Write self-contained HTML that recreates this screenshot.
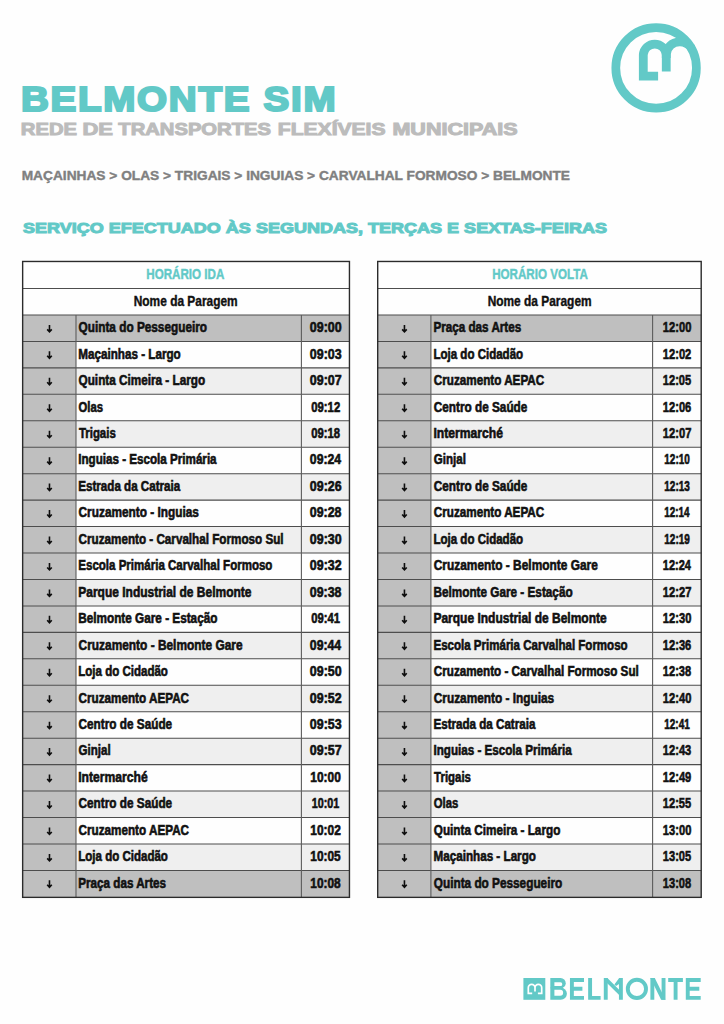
<!DOCTYPE html>
<html lang="pt"><head><meta charset="utf-8"><title>Belmonte SIM</title>
<style>
html,body{margin:0;padding:0;background:#fefefe;}
body{width:724px;height:1024px;position:relative;overflow:hidden;font-family:"Liberation Sans",sans-serif;font-weight:bold;}
svg{position:absolute;left:0;top:0;}
.t{position:absolute;display:block;white-space:nowrap;line-height:1;transform-origin:0 0;}
</style></head><body>
<svg width="724" height="1024" viewBox="0 0 724 1024">
<rect x="22.65" y="314.98" width="326.80" height="26.45" fill="#bfbfbf"/>
<rect x="22.65" y="341.43" width="53.35" height="26.45" fill="#bfbfbf"/>
<rect x="22.65" y="367.88" width="53.35" height="26.45" fill="#bfbfbf"/>
<rect x="76.0" y="367.88" width="273.45" height="26.45" fill="#efefef"/>
<rect x="22.65" y="394.33" width="53.35" height="26.45" fill="#bfbfbf"/>
<rect x="22.65" y="420.78" width="53.35" height="26.45" fill="#bfbfbf"/>
<rect x="76.0" y="420.78" width="273.45" height="26.45" fill="#efefef"/>
<rect x="22.65" y="447.23" width="53.35" height="26.45" fill="#bfbfbf"/>
<rect x="22.65" y="473.68" width="53.35" height="26.45" fill="#bfbfbf"/>
<rect x="76.0" y="473.68" width="273.45" height="26.45" fill="#efefef"/>
<rect x="22.65" y="500.13" width="53.35" height="26.45" fill="#bfbfbf"/>
<rect x="22.65" y="526.58" width="53.35" height="26.45" fill="#bfbfbf"/>
<rect x="76.0" y="526.58" width="273.45" height="26.45" fill="#efefef"/>
<rect x="22.65" y="553.03" width="53.35" height="26.45" fill="#bfbfbf"/>
<rect x="22.65" y="579.48" width="53.35" height="26.45" fill="#bfbfbf"/>
<rect x="76.0" y="579.48" width="273.45" height="26.45" fill="#efefef"/>
<rect x="22.65" y="605.93" width="53.35" height="26.45" fill="#bfbfbf"/>
<rect x="22.65" y="632.38" width="53.35" height="26.45" fill="#bfbfbf"/>
<rect x="76.0" y="632.38" width="273.45" height="26.45" fill="#efefef"/>
<rect x="22.65" y="658.83" width="53.35" height="26.45" fill="#bfbfbf"/>
<rect x="22.65" y="685.28" width="53.35" height="26.45" fill="#bfbfbf"/>
<rect x="76.0" y="685.28" width="273.45" height="26.45" fill="#efefef"/>
<rect x="22.65" y="711.73" width="53.35" height="26.45" fill="#bfbfbf"/>
<rect x="22.65" y="738.18" width="53.35" height="26.45" fill="#bfbfbf"/>
<rect x="76.0" y="738.18" width="273.45" height="26.45" fill="#efefef"/>
<rect x="22.65" y="764.63" width="53.35" height="26.45" fill="#bfbfbf"/>
<rect x="22.65" y="791.08" width="53.35" height="26.45" fill="#bfbfbf"/>
<rect x="76.0" y="791.08" width="273.45" height="26.45" fill="#efefef"/>
<rect x="22.65" y="817.53" width="53.35" height="26.45" fill="#bfbfbf"/>
<rect x="22.65" y="843.98" width="53.35" height="26.45" fill="#bfbfbf"/>
<rect x="76.0" y="843.98" width="273.45" height="26.45" fill="#efefef"/>
<rect x="22.65" y="870.43" width="326.80" height="26.45" fill="#bfbfbf"/>
<line x1="22.65" y1="288.53" x2="349.45" y2="288.53" stroke="#4d4d4d" stroke-width="1.05"/>
<line x1="22.65" y1="314.98" x2="349.45" y2="314.98" stroke="#4d4d4d" stroke-width="1.05"/>
<line x1="22.65" y1="341.43" x2="349.45" y2="341.43" stroke="#4d4d4d" stroke-width="1.05"/>
<line x1="22.65" y1="367.88" x2="349.45" y2="367.88" stroke="#4d4d4d" stroke-width="1.05"/>
<line x1="22.65" y1="394.33" x2="349.45" y2="394.33" stroke="#4d4d4d" stroke-width="1.05"/>
<line x1="22.65" y1="420.78" x2="349.45" y2="420.78" stroke="#4d4d4d" stroke-width="1.05"/>
<line x1="22.65" y1="447.23" x2="349.45" y2="447.23" stroke="#4d4d4d" stroke-width="1.05"/>
<line x1="22.65" y1="473.68" x2="349.45" y2="473.68" stroke="#4d4d4d" stroke-width="1.05"/>
<line x1="22.65" y1="500.13" x2="349.45" y2="500.13" stroke="#4d4d4d" stroke-width="1.05"/>
<line x1="22.65" y1="526.58" x2="349.45" y2="526.58" stroke="#4d4d4d" stroke-width="1.05"/>
<line x1="22.65" y1="553.03" x2="349.45" y2="553.03" stroke="#4d4d4d" stroke-width="1.05"/>
<line x1="22.65" y1="579.48" x2="349.45" y2="579.48" stroke="#4d4d4d" stroke-width="1.05"/>
<line x1="22.65" y1="605.93" x2="349.45" y2="605.93" stroke="#4d4d4d" stroke-width="1.05"/>
<line x1="22.65" y1="632.38" x2="349.45" y2="632.38" stroke="#4d4d4d" stroke-width="1.05"/>
<line x1="22.65" y1="658.83" x2="349.45" y2="658.83" stroke="#4d4d4d" stroke-width="1.05"/>
<line x1="22.65" y1="685.28" x2="349.45" y2="685.28" stroke="#4d4d4d" stroke-width="1.05"/>
<line x1="22.65" y1="711.73" x2="349.45" y2="711.73" stroke="#4d4d4d" stroke-width="1.05"/>
<line x1="22.65" y1="738.18" x2="349.45" y2="738.18" stroke="#4d4d4d" stroke-width="1.05"/>
<line x1="22.65" y1="764.63" x2="349.45" y2="764.63" stroke="#4d4d4d" stroke-width="1.05"/>
<line x1="22.65" y1="791.08" x2="349.45" y2="791.08" stroke="#4d4d4d" stroke-width="1.05"/>
<line x1="22.65" y1="817.53" x2="349.45" y2="817.53" stroke="#4d4d4d" stroke-width="1.05"/>
<line x1="22.65" y1="843.98" x2="349.45" y2="843.98" stroke="#4d4d4d" stroke-width="1.05"/>
<line x1="22.65" y1="870.43" x2="349.45" y2="870.43" stroke="#4d4d4d" stroke-width="1.05"/>
<line x1="76.0" y1="314.98" x2="76.0" y2="896.88" stroke="#5c5c5c" stroke-width="1.1"/>
<line x1="301.4" y1="314.98" x2="301.4" y2="896.88" stroke="#5c5c5c" stroke-width="1.1"/>
<rect x="22.65" y="261.47" width="326.80" height="635.88" fill="none" stroke="#2b2b2b" stroke-width="1.4"/>
<path d="M49.48 324.88V331.58M47.18 329.38L49.48 331.88L51.77 329.38" fill="none" stroke="#0d0d0d" stroke-width="1.6"/>
<path d="M49.48 351.33V358.03M47.18 355.83L49.48 358.33L51.77 355.83" fill="none" stroke="#0d0d0d" stroke-width="1.6"/>
<path d="M49.48 377.78V384.48M47.18 382.28L49.48 384.78L51.77 382.28" fill="none" stroke="#0d0d0d" stroke-width="1.6"/>
<path d="M49.48 404.23V410.93M47.18 408.73L49.48 411.23L51.77 408.73" fill="none" stroke="#0d0d0d" stroke-width="1.6"/>
<path d="M49.48 430.68V437.38M47.18 435.18L49.48 437.68L51.77 435.18" fill="none" stroke="#0d0d0d" stroke-width="1.6"/>
<path d="M49.48 457.13V463.83M47.18 461.63L49.48 464.13L51.77 461.63" fill="none" stroke="#0d0d0d" stroke-width="1.6"/>
<path d="M49.48 483.58V490.28M47.18 488.08L49.48 490.58L51.77 488.08" fill="none" stroke="#0d0d0d" stroke-width="1.6"/>
<path d="M49.48 510.03V516.73M47.18 514.53L49.48 517.03L51.77 514.53" fill="none" stroke="#0d0d0d" stroke-width="1.6"/>
<path d="M49.48 536.48V543.18M47.18 540.98L49.48 543.48L51.77 540.98" fill="none" stroke="#0d0d0d" stroke-width="1.6"/>
<path d="M49.48 562.93V569.63M47.18 567.43L49.48 569.93L51.77 567.43" fill="none" stroke="#0d0d0d" stroke-width="1.6"/>
<path d="M49.48 589.38V596.08M47.18 593.88L49.48 596.38L51.77 593.88" fill="none" stroke="#0d0d0d" stroke-width="1.6"/>
<path d="M49.48 615.83V622.53M47.18 620.33L49.48 622.83L51.77 620.33" fill="none" stroke="#0d0d0d" stroke-width="1.6"/>
<path d="M49.48 642.28V648.98M47.18 646.78L49.48 649.28L51.77 646.78" fill="none" stroke="#0d0d0d" stroke-width="1.6"/>
<path d="M49.48 668.73V675.43M47.18 673.23L49.48 675.73L51.77 673.23" fill="none" stroke="#0d0d0d" stroke-width="1.6"/>
<path d="M49.48 695.18V701.88M47.18 699.68L49.48 702.18L51.77 699.68" fill="none" stroke="#0d0d0d" stroke-width="1.6"/>
<path d="M49.48 721.63V728.33M47.18 726.13L49.48 728.63L51.77 726.13" fill="none" stroke="#0d0d0d" stroke-width="1.6"/>
<path d="M49.48 748.08V754.78M47.18 752.58L49.48 755.08L51.77 752.58" fill="none" stroke="#0d0d0d" stroke-width="1.6"/>
<path d="M49.48 774.53V781.23M47.18 779.03L49.48 781.53L51.77 779.03" fill="none" stroke="#0d0d0d" stroke-width="1.6"/>
<path d="M49.48 800.98V807.68M47.18 805.48L49.48 807.98L51.77 805.48" fill="none" stroke="#0d0d0d" stroke-width="1.6"/>
<path d="M49.48 827.43V834.13M47.18 831.93L49.48 834.43L51.77 831.93" fill="none" stroke="#0d0d0d" stroke-width="1.6"/>
<path d="M49.48 853.88V860.58M47.18 858.38L49.48 860.88L51.77 858.38" fill="none" stroke="#0d0d0d" stroke-width="1.6"/>
<path d="M49.48 880.33V887.03M47.18 884.83L49.48 887.33L51.77 884.83" fill="none" stroke="#0d0d0d" stroke-width="1.6"/>
<rect x="377.7" y="314.98" width="323.50" height="26.45" fill="#bfbfbf"/>
<rect x="377.7" y="341.43" width="53.20" height="26.45" fill="#bfbfbf"/>
<rect x="377.7" y="367.88" width="53.20" height="26.45" fill="#bfbfbf"/>
<rect x="430.9" y="367.88" width="270.30" height="26.45" fill="#efefef"/>
<rect x="377.7" y="394.33" width="53.20" height="26.45" fill="#bfbfbf"/>
<rect x="377.7" y="420.78" width="53.20" height="26.45" fill="#bfbfbf"/>
<rect x="430.9" y="420.78" width="270.30" height="26.45" fill="#efefef"/>
<rect x="377.7" y="447.23" width="53.20" height="26.45" fill="#bfbfbf"/>
<rect x="377.7" y="473.68" width="53.20" height="26.45" fill="#bfbfbf"/>
<rect x="430.9" y="473.68" width="270.30" height="26.45" fill="#efefef"/>
<rect x="377.7" y="500.13" width="53.20" height="26.45" fill="#bfbfbf"/>
<rect x="377.7" y="526.58" width="53.20" height="26.45" fill="#bfbfbf"/>
<rect x="430.9" y="526.58" width="270.30" height="26.45" fill="#efefef"/>
<rect x="377.7" y="553.03" width="53.20" height="26.45" fill="#bfbfbf"/>
<rect x="377.7" y="579.48" width="53.20" height="26.45" fill="#bfbfbf"/>
<rect x="430.9" y="579.48" width="270.30" height="26.45" fill="#efefef"/>
<rect x="377.7" y="605.93" width="53.20" height="26.45" fill="#bfbfbf"/>
<rect x="377.7" y="632.38" width="53.20" height="26.45" fill="#bfbfbf"/>
<rect x="430.9" y="632.38" width="270.30" height="26.45" fill="#efefef"/>
<rect x="377.7" y="658.83" width="53.20" height="26.45" fill="#bfbfbf"/>
<rect x="377.7" y="685.28" width="53.20" height="26.45" fill="#bfbfbf"/>
<rect x="430.9" y="685.28" width="270.30" height="26.45" fill="#efefef"/>
<rect x="377.7" y="711.73" width="53.20" height="26.45" fill="#bfbfbf"/>
<rect x="377.7" y="738.18" width="53.20" height="26.45" fill="#bfbfbf"/>
<rect x="430.9" y="738.18" width="270.30" height="26.45" fill="#efefef"/>
<rect x="377.7" y="764.63" width="53.20" height="26.45" fill="#bfbfbf"/>
<rect x="377.7" y="791.08" width="53.20" height="26.45" fill="#bfbfbf"/>
<rect x="430.9" y="791.08" width="270.30" height="26.45" fill="#efefef"/>
<rect x="377.7" y="817.53" width="53.20" height="26.45" fill="#bfbfbf"/>
<rect x="377.7" y="843.98" width="53.20" height="26.45" fill="#bfbfbf"/>
<rect x="430.9" y="843.98" width="270.30" height="26.45" fill="#efefef"/>
<rect x="377.7" y="870.43" width="323.50" height="26.45" fill="#bfbfbf"/>
<line x1="377.7" y1="288.53" x2="701.2" y2="288.53" stroke="#4d4d4d" stroke-width="1.05"/>
<line x1="377.7" y1="314.98" x2="701.2" y2="314.98" stroke="#4d4d4d" stroke-width="1.05"/>
<line x1="377.7" y1="341.43" x2="701.2" y2="341.43" stroke="#4d4d4d" stroke-width="1.05"/>
<line x1="377.7" y1="367.88" x2="701.2" y2="367.88" stroke="#4d4d4d" stroke-width="1.05"/>
<line x1="377.7" y1="394.33" x2="701.2" y2="394.33" stroke="#4d4d4d" stroke-width="1.05"/>
<line x1="377.7" y1="420.78" x2="701.2" y2="420.78" stroke="#4d4d4d" stroke-width="1.05"/>
<line x1="377.7" y1="447.23" x2="701.2" y2="447.23" stroke="#4d4d4d" stroke-width="1.05"/>
<line x1="377.7" y1="473.68" x2="701.2" y2="473.68" stroke="#4d4d4d" stroke-width="1.05"/>
<line x1="377.7" y1="500.13" x2="701.2" y2="500.13" stroke="#4d4d4d" stroke-width="1.05"/>
<line x1="377.7" y1="526.58" x2="701.2" y2="526.58" stroke="#4d4d4d" stroke-width="1.05"/>
<line x1="377.7" y1="553.03" x2="701.2" y2="553.03" stroke="#4d4d4d" stroke-width="1.05"/>
<line x1="377.7" y1="579.48" x2="701.2" y2="579.48" stroke="#4d4d4d" stroke-width="1.05"/>
<line x1="377.7" y1="605.93" x2="701.2" y2="605.93" stroke="#4d4d4d" stroke-width="1.05"/>
<line x1="377.7" y1="632.38" x2="701.2" y2="632.38" stroke="#4d4d4d" stroke-width="1.05"/>
<line x1="377.7" y1="658.83" x2="701.2" y2="658.83" stroke="#4d4d4d" stroke-width="1.05"/>
<line x1="377.7" y1="685.28" x2="701.2" y2="685.28" stroke="#4d4d4d" stroke-width="1.05"/>
<line x1="377.7" y1="711.73" x2="701.2" y2="711.73" stroke="#4d4d4d" stroke-width="1.05"/>
<line x1="377.7" y1="738.18" x2="701.2" y2="738.18" stroke="#4d4d4d" stroke-width="1.05"/>
<line x1="377.7" y1="764.63" x2="701.2" y2="764.63" stroke="#4d4d4d" stroke-width="1.05"/>
<line x1="377.7" y1="791.08" x2="701.2" y2="791.08" stroke="#4d4d4d" stroke-width="1.05"/>
<line x1="377.7" y1="817.53" x2="701.2" y2="817.53" stroke="#4d4d4d" stroke-width="1.05"/>
<line x1="377.7" y1="843.98" x2="701.2" y2="843.98" stroke="#4d4d4d" stroke-width="1.05"/>
<line x1="377.7" y1="870.43" x2="701.2" y2="870.43" stroke="#4d4d4d" stroke-width="1.05"/>
<line x1="430.9" y1="314.98" x2="430.9" y2="896.88" stroke="#5c5c5c" stroke-width="1.1"/>
<line x1="652.6" y1="314.98" x2="652.6" y2="896.88" stroke="#5c5c5c" stroke-width="1.1"/>
<rect x="377.7" y="261.47" width="323.50" height="635.88" fill="none" stroke="#2b2b2b" stroke-width="1.4"/>
<path d="M404.45 324.88V331.58M402.15 329.38L404.45 331.88L406.75 329.38" fill="none" stroke="#0d0d0d" stroke-width="1.6"/>
<path d="M404.45 351.33V358.03M402.15 355.83L404.45 358.33L406.75 355.83" fill="none" stroke="#0d0d0d" stroke-width="1.6"/>
<path d="M404.45 377.78V384.48M402.15 382.28L404.45 384.78L406.75 382.28" fill="none" stroke="#0d0d0d" stroke-width="1.6"/>
<path d="M404.45 404.23V410.93M402.15 408.73L404.45 411.23L406.75 408.73" fill="none" stroke="#0d0d0d" stroke-width="1.6"/>
<path d="M404.45 430.68V437.38M402.15 435.18L404.45 437.68L406.75 435.18" fill="none" stroke="#0d0d0d" stroke-width="1.6"/>
<path d="M404.45 457.13V463.83M402.15 461.63L404.45 464.13L406.75 461.63" fill="none" stroke="#0d0d0d" stroke-width="1.6"/>
<path d="M404.45 483.58V490.28M402.15 488.08L404.45 490.58L406.75 488.08" fill="none" stroke="#0d0d0d" stroke-width="1.6"/>
<path d="M404.45 510.03V516.73M402.15 514.53L404.45 517.03L406.75 514.53" fill="none" stroke="#0d0d0d" stroke-width="1.6"/>
<path d="M404.45 536.48V543.18M402.15 540.98L404.45 543.48L406.75 540.98" fill="none" stroke="#0d0d0d" stroke-width="1.6"/>
<path d="M404.45 562.93V569.63M402.15 567.43L404.45 569.93L406.75 567.43" fill="none" stroke="#0d0d0d" stroke-width="1.6"/>
<path d="M404.45 589.38V596.08M402.15 593.88L404.45 596.38L406.75 593.88" fill="none" stroke="#0d0d0d" stroke-width="1.6"/>
<path d="M404.45 615.83V622.53M402.15 620.33L404.45 622.83L406.75 620.33" fill="none" stroke="#0d0d0d" stroke-width="1.6"/>
<path d="M404.45 642.28V648.98M402.15 646.78L404.45 649.28L406.75 646.78" fill="none" stroke="#0d0d0d" stroke-width="1.6"/>
<path d="M404.45 668.73V675.43M402.15 673.23L404.45 675.73L406.75 673.23" fill="none" stroke="#0d0d0d" stroke-width="1.6"/>
<path d="M404.45 695.18V701.88M402.15 699.68L404.45 702.18L406.75 699.68" fill="none" stroke="#0d0d0d" stroke-width="1.6"/>
<path d="M404.45 721.63V728.33M402.15 726.13L404.45 728.63L406.75 726.13" fill="none" stroke="#0d0d0d" stroke-width="1.6"/>
<path d="M404.45 748.08V754.78M402.15 752.58L404.45 755.08L406.75 752.58" fill="none" stroke="#0d0d0d" stroke-width="1.6"/>
<path d="M404.45 774.53V781.23M402.15 779.03L404.45 781.53L406.75 779.03" fill="none" stroke="#0d0d0d" stroke-width="1.6"/>
<path d="M404.45 800.98V807.68M402.15 805.48L404.45 807.98L406.75 805.48" fill="none" stroke="#0d0d0d" stroke-width="1.6"/>
<path d="M404.45 827.43V834.13M402.15 831.93L404.45 834.43L406.75 831.93" fill="none" stroke="#0d0d0d" stroke-width="1.6"/>
<path d="M404.45 853.88V860.58M402.15 858.38L404.45 860.88L406.75 858.38" fill="none" stroke="#0d0d0d" stroke-width="1.6"/>
<path d="M404.45 880.33V887.03M402.15 884.83L404.45 887.33L406.75 884.83" fill="none" stroke="#0d0d0d" stroke-width="1.6"/>

<g fill="none" stroke="#62c9c7">
<circle cx="656.1" cy="67.9" r="40.3" stroke-width="8.7"/>
<path d="M658.1 76.05H643.3V54.8A11.5 11.5 0 0 1 666.25 54.8V71.6" stroke-width="8.8" stroke-linejoin="miter"/>
</g>
<path d="M661.85 58V54.8A17.15 17.15 0 0 1 679 37.65L695 45L690.5 53L688.3 50.9Q684.8 46.3 680 46.3A8.9 8.9 0 0 0 670.65 54.8V58Z" fill="#62c9c7"/>

<rect x="523.4" y="978" width="21.9" height="21.8" fill="#62c9c7"/>
<path d="M532.2 993.3H528.3V987.8A3.35 3.35 0 0 1 535 987.8V991.6M535 987.8A3.35 3.35 0 0 1 541.7 987.8V993.3H537.9" fill="none" stroke="#fff" stroke-width="1.7"/>
<g fill="#62c9c7">
<path d="M550.3 978H560.6A5.15 5.15 0 0 1 560.6 988.3H550.3Z"/>
<path d="M550.3 987.6H560.8A6.1 6.1 0 0 1 560.8 999.8H550.3Z"/>
<path d="M605 977.9H607.4L620.9 991.4V996.8L605 980.9Z"/>
<path d="M614.4 984.4L619.2 977.9H621V984.1H619L616.1 986.1Z"/>
<path d="M650.4 978H654.8L665.5 999.8H661.1Z"/>
</g>
<g fill="#fefefe">
<path d="M554.4 982.3H560.4A1.9 1.9 0 0 1 560.4 986.1H554.4Z"/>
<path d="M554.4 989.8H560.2A2.95 2.95 0 0 1 560.2 995.7H554.4Z"/>
</g>
<g fill="none" stroke="#62c9c7" stroke-width="3.9">
<path d="M584 979.95H571.9V997.85H584M571.9 988.75H582.4"/>
<path d="M590.1 978V997.85H600.6"/>
<path d="M605.75 977.9V999.8M620.9 977.9V999.8"/>
<circle cx="636.9" cy="988.9" r="9.1"/>
<path d="M652.35 978V999.8M663.55 978V999.8"/>
<path d="M668.2 979.95H682.9M675.6 978V999.8"/>
<path d="M700.7 979.95H687.75V997.85H700.7M687.75 988.75H699.3"/>
</g>
</svg>
<span class="t" style="left:21px;top:82px;font-size:35.8px;color:#62c9c7;transform:translateX(0.01px) scaleX(1.0769);-webkit-text-stroke:2.2px #62c9c7;letter-spacing:1.6px;">BELMONTE SIM</span>
<span class="t" style="left:20px;top:121px;font-size:17.0px;color:#bcbcbc;transform:translateX(0.84px) scaleX(1.1889);-webkit-text-stroke:1.0px #bcbcbc;">REDE</span>
<span class="t" style="left:82px;top:121px;font-size:17.0px;color:#bcbcbc;transform:translateX(0.38px) scaleX(1.2930);-webkit-text-stroke:1.0px #bcbcbc;">DE</span>
<span class="t" style="left:118px;top:121px;font-size:17.0px;color:#bcbcbc;transform:translateX(0.37px) scaleX(1.1874);-webkit-text-stroke:1.0px #bcbcbc;">TRANSPORTES</span>
<span class="t" style="left:277px;top:121px;font-size:17.0px;color:#bcbcbc;transform:translateX(0.81px) scaleX(1.2391);-webkit-text-stroke:1.0px #bcbcbc;">FLEXÍVEIS</span>
<span class="t" style="left:392px;top:121px;font-size:17.0px;color:#bcbcbc;transform:translateX(0.39px) scaleX(1.2677);-webkit-text-stroke:1.0px #bcbcbc;">MUNICIPAIS</span>
<span class="t" style="left:21px;top:169px;font-size:13.4px;color:#808080;transform:translateX(0.69px) scaleX(1.0243);-webkit-text-stroke:0.4px #808080;">MAÇAINHAS > OLAS > TRIGAIS > INGUIAS > CARVALHAL FORMOSO > BELMONTE</span>
<span class="t" style="left:22px;top:220px;font-size:15.2px;color:#62c9c7;transform:translateX(0.97px) scaleX(1.1863);-webkit-text-stroke:1.0px #62c9c7;">SERVIÇO EFECTUADO ÀS SEGUNDAS, TERÇAS E SEXTAS-FEIRAS</span>
<span class="t" style="left:146px;top:267px;font-size:14px;color:#62c9c7;transform:translateX(0.26px) scaleX(0.8300);-webkit-text-stroke:0.4px #62c9c7;">HORÁRIO IDA</span>
<span class="t" style="left:133px;top:294px;font-size:14px;color:#111;transform:translateX(0.74px) scaleX(0.8510);-webkit-text-stroke:0.4px #111;">Nome da Paragem</span>
<span class="t" style="left:78px;top:320px;font-size:14px;color:#111;transform:translateX(0.57px) scaleX(0.8424);-webkit-text-stroke:0.6px #111;">Quinta do Pessegueiro</span>
<span class="t" style="left:309px;top:320px;font-size:14px;color:#111;transform:translateX(0.85px) scaleX(0.8872);-webkit-text-stroke:0.6px #111;">09:00</span>
<span class="t" style="left:78px;top:347px;font-size:14px;color:#111;transform:translateX(0.27px) scaleX(0.8334);-webkit-text-stroke:0.6px #111;">Maçainhas - Largo</span>
<span class="t" style="left:309px;top:347px;font-size:14px;color:#111;transform:translateX(0.85px) scaleX(0.8855);-webkit-text-stroke:0.6px #111;">09:03</span>
<span class="t" style="left:78px;top:373px;font-size:14px;color:#111;transform:translateX(0.57px) scaleX(0.8385);-webkit-text-stroke:0.6px #111;">Quinta Cimeira - Largo</span>
<span class="t" style="left:309px;top:373px;font-size:14px;color:#111;transform:translateX(0.85px) scaleX(0.8883);-webkit-text-stroke:0.6px #111;">09:07</span>
<span class="t" style="left:78px;top:400px;font-size:14px;color:#111;transform:translateX(0.58px) scaleX(0.8053);-webkit-text-stroke:0.6px #111;">Olas</span>
<span class="t" style="left:311px;top:400px;font-size:14px;color:#111;transform:translateX(0.27px) scaleX(0.8075);-webkit-text-stroke:0.6px #111;">09:12</span>
<span class="t" style="left:78px;top:426px;font-size:14px;color:#111;transform:translateX(0.92px) scaleX(0.8156);-webkit-text-stroke:0.6px #111;">Trigais</span>
<span class="t" style="left:311px;top:426px;font-size:14px;color:#111;transform:translateX(0.27px) scaleX(0.8046);-webkit-text-stroke:0.6px #111;">09:18</span>
<span class="t" style="left:78px;top:452px;font-size:14px;color:#111;transform:translateX(0.27px) scaleX(0.8306);-webkit-text-stroke:0.6px #111;">Inguias - Escola Primária</span>
<span class="t" style="left:309px;top:452px;font-size:14px;color:#111;transform:translateX(0.85px) scaleX(0.8748);-webkit-text-stroke:0.6px #111;">09:24</span>
<span class="t" style="left:78px;top:479px;font-size:14px;color:#111;transform:translateX(0.27px) scaleX(0.8289);-webkit-text-stroke:0.6px #111;">Estrada da Catraia</span>
<span class="t" style="left:309px;top:479px;font-size:14px;color:#111;transform:translateX(0.85px) scaleX(0.8855);-webkit-text-stroke:0.6px #111;">09:26</span>
<span class="t" style="left:78px;top:505px;font-size:14px;color:#111;transform:translateX(0.57px) scaleX(0.8456);-webkit-text-stroke:0.6px #111;">Cruzamento - Inguias</span>
<span class="t" style="left:309px;top:505px;font-size:14px;color:#111;transform:translateX(0.85px) scaleX(0.8836);-webkit-text-stroke:0.6px #111;">09:28</span>
<span class="t" style="left:78px;top:532px;font-size:14px;color:#111;transform:translateX(0.57px) scaleX(0.8340);-webkit-text-stroke:0.6px #111;">Cruzamento - Carvalhal Formoso Sul</span>
<span class="t" style="left:309px;top:532px;font-size:14px;color:#111;transform:translateX(0.85px) scaleX(0.8872);-webkit-text-stroke:0.6px #111;">09:30</span>
<span class="t" style="left:78px;top:558px;font-size:14px;color:#111;transform:translateX(0.28px) scaleX(0.8234);-webkit-text-stroke:0.6px #111;">Escola Primária Carvalhal Formoso</span>
<span class="t" style="left:309px;top:558px;font-size:14px;color:#111;transform:translateX(0.85px) scaleX(0.8869);-webkit-text-stroke:0.6px #111;">09:32</span>
<span class="t" style="left:78px;top:585px;font-size:14px;color:#111;transform:translateX(0.25px) scaleX(0.8563);-webkit-text-stroke:0.6px #111;">Parque Industrial de Belmonte</span>
<span class="t" style="left:309px;top:585px;font-size:14px;color:#111;transform:translateX(0.85px) scaleX(0.8836);-webkit-text-stroke:0.6px #111;">09:38</span>
<span class="t" style="left:78px;top:611px;font-size:14px;color:#111;transform:translateX(0.27px) scaleX(0.8396);-webkit-text-stroke:0.6px #111;">Belmonte Gare - Estação</span>
<span class="t" style="left:311px;top:611px;font-size:14px;color:#111;transform:translateX(0.27px) scaleX(0.8036);-webkit-text-stroke:0.6px #111;">09:41</span>
<span class="t" style="left:78px;top:638px;font-size:14px;color:#111;transform:translateX(0.57px) scaleX(0.8500);-webkit-text-stroke:0.6px #111;">Cruzamento - Belmonte Gare</span>
<span class="t" style="left:309px;top:638px;font-size:14px;color:#111;transform:translateX(0.85px) scaleX(0.8748);-webkit-text-stroke:0.6px #111;">09:44</span>
<span class="t" style="left:78px;top:664px;font-size:14px;color:#111;transform:translateX(0.28px) scaleX(0.8231);-webkit-text-stroke:0.6px #111;">Loja do Cidadão</span>
<span class="t" style="left:309px;top:664px;font-size:14px;color:#111;transform:translateX(0.85px) scaleX(0.8872);-webkit-text-stroke:0.6px #111;">09:50</span>
<span class="t" style="left:78px;top:691px;font-size:14px;color:#111;transform:translateX(0.57px) scaleX(0.8354);-webkit-text-stroke:0.6px #111;">Cruzamento AEPAC</span>
<span class="t" style="left:309px;top:691px;font-size:14px;color:#111;transform:translateX(0.85px) scaleX(0.8869);-webkit-text-stroke:0.6px #111;">09:52</span>
<span class="t" style="left:78px;top:717px;font-size:14px;color:#111;transform:translateX(0.57px) scaleX(0.8412);-webkit-text-stroke:0.6px #111;">Centro de Saúde</span>
<span class="t" style="left:309px;top:717px;font-size:14px;color:#111;transform:translateX(0.85px) scaleX(0.8855);-webkit-text-stroke:0.6px #111;">09:53</span>
<span class="t" style="left:78px;top:743px;font-size:14px;color:#111;transform:translateX(0.57px) scaleX(0.8252);-webkit-text-stroke:0.6px #111;">Ginjal</span>
<span class="t" style="left:309px;top:743px;font-size:14px;color:#111;transform:translateX(0.85px) scaleX(0.8883);-webkit-text-stroke:0.6px #111;">09:57</span>
<span class="t" style="left:78px;top:770px;font-size:14px;color:#111;transform:translateX(0.25px) scaleX(0.8673);-webkit-text-stroke:0.6px #111;">Intermarché</span>
<span class="t" style="left:310px;top:770px;font-size:14px;color:#111;transform:translateX(0.33px) scaleX(0.8526);-webkit-text-stroke:0.6px #111;">10:00</span>
<span class="t" style="left:78px;top:796px;font-size:14px;color:#111;transform:translateX(0.57px) scaleX(0.8412);-webkit-text-stroke:0.6px #111;">Centro de Saúde</span>
<span class="t" style="left:311px;top:796px;font-size:14px;color:#111;transform:translateX(0.78px) scaleX(0.7685);-webkit-text-stroke:0.6px #111;">10:01</span>
<span class="t" style="left:78px;top:823px;font-size:14px;color:#111;transform:translateX(0.57px) scaleX(0.8354);-webkit-text-stroke:0.6px #111;">Cruzamento AEPAC</span>
<span class="t" style="left:310px;top:823px;font-size:14px;color:#111;transform:translateX(0.33px) scaleX(0.8523);-webkit-text-stroke:0.6px #111;">10:02</span>
<span class="t" style="left:78px;top:849px;font-size:14px;color:#111;transform:translateX(0.28px) scaleX(0.8231);-webkit-text-stroke:0.6px #111;">Loja do Cidadão</span>
<span class="t" style="left:310px;top:849px;font-size:14px;color:#111;transform:translateX(0.33px) scaleX(0.8482);-webkit-text-stroke:0.6px #111;">10:05</span>
<span class="t" style="left:78px;top:876px;font-size:14px;color:#111;transform:translateX(0.27px) scaleX(0.8329);-webkit-text-stroke:0.6px #111;">Praça das Artes</span>
<span class="t" style="left:310px;top:876px;font-size:14px;color:#111;transform:translateX(0.33px) scaleX(0.8491);-webkit-text-stroke:0.6px #111;">10:08</span>
<span class="t" style="left:492px;top:267px;font-size:14px;color:#62c9c7;transform:translateX(0.14px) scaleX(0.8300);-webkit-text-stroke:0.4px #62c9c7;">HORÁRIO VOLTA</span>
<span class="t" style="left:487px;top:294px;font-size:14px;color:#111;transform:translateX(0.64px) scaleX(0.8510);-webkit-text-stroke:0.4px #111;">Nome da Paragem</span>
<span class="t" style="left:433px;top:320px;font-size:14px;color:#111;transform:translateX(0.47px) scaleX(0.8329);-webkit-text-stroke:0.6px #111;">Praça das Artes</span>
<span class="t" style="left:662px;top:320px;font-size:14px;color:#111;transform:translateX(0.84px) scaleX(0.7954);-webkit-text-stroke:0.6px #111;">12:00</span>
<span class="t" style="left:433px;top:347px;font-size:14px;color:#111;transform:translateX(0.48px) scaleX(0.8231);-webkit-text-stroke:0.6px #111;">Loja do Cidadão</span>
<span class="t" style="left:662px;top:347px;font-size:14px;color:#111;transform:translateX(0.84px) scaleX(0.7951);-webkit-text-stroke:0.6px #111;">12:02</span>
<span class="t" style="left:433px;top:373px;font-size:14px;color:#111;transform:translateX(0.77px) scaleX(0.8354);-webkit-text-stroke:0.6px #111;">Cruzamento AEPAC</span>
<span class="t" style="left:662px;top:373px;font-size:14px;color:#111;transform:translateX(0.84px) scaleX(0.7912);-webkit-text-stroke:0.6px #111;">12:05</span>
<span class="t" style="left:433px;top:400px;font-size:14px;color:#111;transform:translateX(0.77px) scaleX(0.8412);-webkit-text-stroke:0.6px #111;">Centro de Saúde</span>
<span class="t" style="left:662px;top:400px;font-size:14px;color:#111;transform:translateX(0.84px) scaleX(0.7939);-webkit-text-stroke:0.6px #111;">12:06</span>
<span class="t" style="left:433px;top:426px;font-size:14px;color:#111;transform:translateX(0.45px) scaleX(0.8673);-webkit-text-stroke:0.6px #111;">Intermarché</span>
<span class="t" style="left:662px;top:426px;font-size:14px;color:#111;transform:translateX(0.84px) scaleX(0.7963);-webkit-text-stroke:0.6px #111;">12:07</span>
<span class="t" style="left:433px;top:452px;font-size:14px;color:#111;transform:translateX(0.77px) scaleX(0.8252);-webkit-text-stroke:0.6px #111;">Ginjal</span>
<span class="t" style="left:664px;top:452px;font-size:14px;color:#111;transform:translateX(0.28px) scaleX(0.7153);-webkit-text-stroke:0.6px #111;">12:10</span>
<span class="t" style="left:433px;top:479px;font-size:14px;color:#111;transform:translateX(0.77px) scaleX(0.8412);-webkit-text-stroke:0.6px #111;">Centro de Saúde</span>
<span class="t" style="left:664px;top:479px;font-size:14px;color:#111;transform:translateX(0.28px) scaleX(0.7139);-webkit-text-stroke:0.6px #111;">12:13</span>
<span class="t" style="left:433px;top:505px;font-size:14px;color:#111;transform:translateX(0.77px) scaleX(0.8354);-webkit-text-stroke:0.6px #111;">Cruzamento AEPAC</span>
<span class="t" style="left:664px;top:505px;font-size:14px;color:#111;transform:translateX(0.29px) scaleX(0.7052);-webkit-text-stroke:0.6px #111;">12:14</span>
<span class="t" style="left:433px;top:532px;font-size:14px;color:#111;transform:translateX(0.48px) scaleX(0.8231);-webkit-text-stroke:0.6px #111;">Loja do Cidadão</span>
<span class="t" style="left:664px;top:532px;font-size:14px;color:#111;transform:translateX(0.28px) scaleX(0.7142);-webkit-text-stroke:0.6px #111;">12:19</span>
<span class="t" style="left:433px;top:558px;font-size:14px;color:#111;transform:translateX(0.77px) scaleX(0.8500);-webkit-text-stroke:0.6px #111;">Cruzamento - Belmonte Gare</span>
<span class="t" style="left:662px;top:558px;font-size:14px;color:#111;transform:translateX(0.84px) scaleX(0.7842);-webkit-text-stroke:0.6px #111;">12:24</span>
<span class="t" style="left:433px;top:585px;font-size:14px;color:#111;transform:translateX(0.47px) scaleX(0.8396);-webkit-text-stroke:0.6px #111;">Belmonte Gare - Estação</span>
<span class="t" style="left:662px;top:585px;font-size:14px;color:#111;transform:translateX(0.84px) scaleX(0.7963);-webkit-text-stroke:0.6px #111;">12:27</span>
<span class="t" style="left:433px;top:611px;font-size:14px;color:#111;transform:translateX(0.45px) scaleX(0.8563);-webkit-text-stroke:0.6px #111;">Parque Industrial de Belmonte</span>
<span class="t" style="left:662px;top:611px;font-size:14px;color:#111;transform:translateX(0.84px) scaleX(0.7954);-webkit-text-stroke:0.6px #111;">12:30</span>
<span class="t" style="left:433px;top:638px;font-size:14px;color:#111;transform:translateX(0.48px) scaleX(0.8234);-webkit-text-stroke:0.6px #111;">Escola Primária Carvalhal Formoso</span>
<span class="t" style="left:662px;top:638px;font-size:14px;color:#111;transform:translateX(0.84px) scaleX(0.7939);-webkit-text-stroke:0.6px #111;">12:36</span>
<span class="t" style="left:433px;top:664px;font-size:14px;color:#111;transform:translateX(0.77px) scaleX(0.8340);-webkit-text-stroke:0.6px #111;">Cruzamento - Carvalhal Formoso Sul</span>
<span class="t" style="left:662px;top:664px;font-size:14px;color:#111;transform:translateX(0.84px) scaleX(0.7922);-webkit-text-stroke:0.6px #111;">12:38</span>
<span class="t" style="left:433px;top:691px;font-size:14px;color:#111;transform:translateX(0.77px) scaleX(0.8456);-webkit-text-stroke:0.6px #111;">Cruzamento - Inguias</span>
<span class="t" style="left:662px;top:691px;font-size:14px;color:#111;transform:translateX(0.84px) scaleX(0.7954);-webkit-text-stroke:0.6px #111;">12:40</span>
<span class="t" style="left:433px;top:717px;font-size:14px;color:#111;transform:translateX(0.47px) scaleX(0.8289);-webkit-text-stroke:0.6px #111;">Estrada da Catraia</span>
<span class="t" style="left:664px;top:717px;font-size:14px;color:#111;transform:translateX(0.29px) scaleX(0.7115);-webkit-text-stroke:0.6px #111;">12:41</span>
<span class="t" style="left:433px;top:743px;font-size:14px;color:#111;transform:translateX(0.47px) scaleX(0.8306);-webkit-text-stroke:0.6px #111;">Inguias - Escola Primária</span>
<span class="t" style="left:662px;top:743px;font-size:14px;color:#111;transform:translateX(0.84px) scaleX(0.7939);-webkit-text-stroke:0.6px #111;">12:43</span>
<span class="t" style="left:434px;top:770px;font-size:14px;color:#111;transform:translateX(0.12px) scaleX(0.8156);-webkit-text-stroke:0.6px #111;">Trigais</span>
<span class="t" style="left:662px;top:770px;font-size:14px;color:#111;transform:translateX(0.84px) scaleX(0.7942);-webkit-text-stroke:0.6px #111;">12:49</span>
<span class="t" style="left:433px;top:796px;font-size:14px;color:#111;transform:translateX(0.78px) scaleX(0.8053);-webkit-text-stroke:0.6px #111;">Olas</span>
<span class="t" style="left:662px;top:796px;font-size:14px;color:#111;transform:translateX(0.84px) scaleX(0.7912);-webkit-text-stroke:0.6px #111;">12:55</span>
<span class="t" style="left:433px;top:823px;font-size:14px;color:#111;transform:translateX(0.77px) scaleX(0.8385);-webkit-text-stroke:0.6px #111;">Quinta Cimeira - Largo</span>
<span class="t" style="left:662px;top:823px;font-size:14px;color:#111;transform:translateX(0.84px) scaleX(0.7954);-webkit-text-stroke:0.6px #111;">13:00</span>
<span class="t" style="left:433px;top:849px;font-size:14px;color:#111;transform:translateX(0.47px) scaleX(0.8334);-webkit-text-stroke:0.6px #111;">Maçainhas - Largo</span>
<span class="t" style="left:662px;top:849px;font-size:14px;color:#111;transform:translateX(0.84px) scaleX(0.7912);-webkit-text-stroke:0.6px #111;">13:05</span>
<span class="t" style="left:433px;top:876px;font-size:14px;color:#111;transform:translateX(0.77px) scaleX(0.8424);-webkit-text-stroke:0.6px #111;">Quinta do Pessegueiro</span>
<span class="t" style="left:662px;top:876px;font-size:14px;color:#111;transform:translateX(0.84px) scaleX(0.7922);-webkit-text-stroke:0.6px #111;">13:08</span>
</body></html>
